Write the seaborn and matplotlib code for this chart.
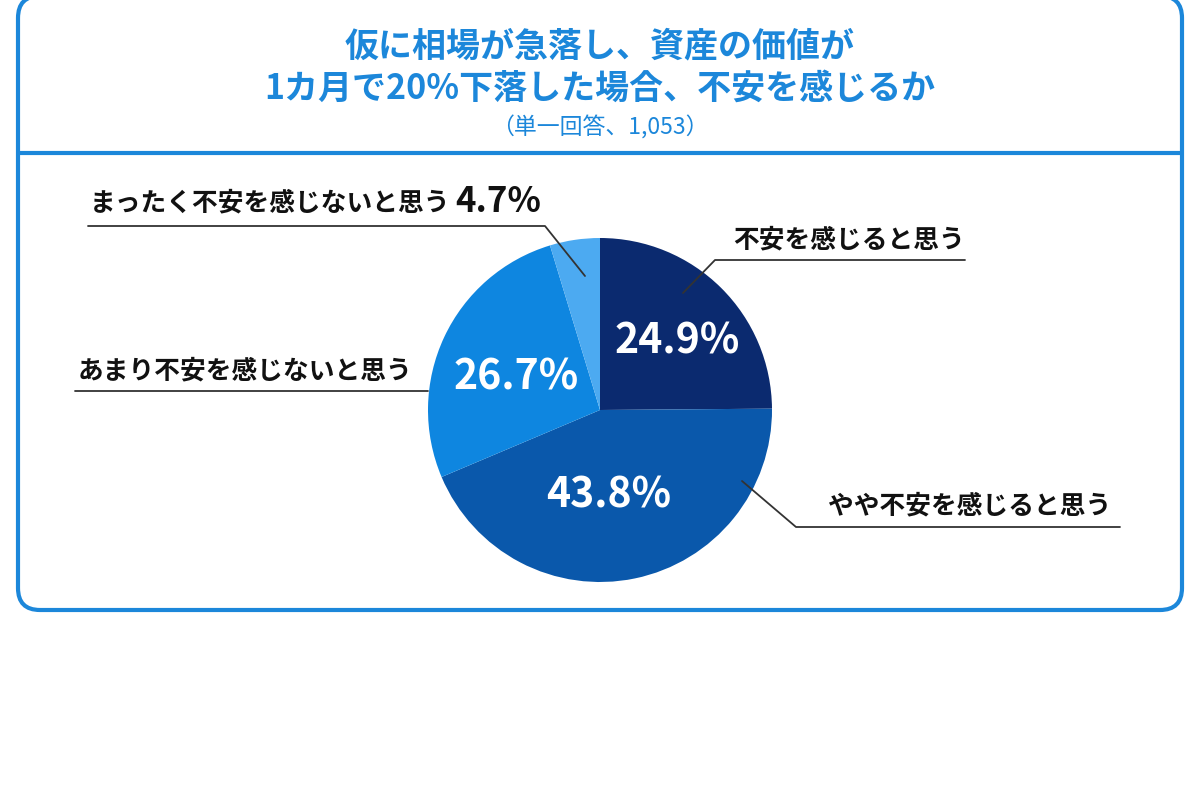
import matplotlib
matplotlib.use("Agg")
import matplotlib.pyplot as plt
from matplotlib.patches import FancyBboxPatch
from matplotlib.lines import Line2D
import seaborn as sns

# Survey data (single answer, n=1,053)
title_lines = ["仮に相場が急落し、資産の価値が", "1カ月で20%下落した場合、不安を感じるか"]
subtitle = "（単一回答、1,053）"
categories = ["不安を感じると思う", "やや不安を感じると思う",
              "あまり不安を感じないと思う", "まったく不安を感じないと思う"]
shares = [24.9, 43.8, 26.7, 4.7]
colors = ["#0b2a6f", "#0a58ab", "#0e86e0", "#4caaf1"]

sns.set_theme(style="white")
plt.rcParams['font.family'] = ['Noto Sans CJK JP', 'DejaVu Sans']

fig = plt.figure(figsize=(12, 8), dpi=100)

# background axes in pixel units for frame and titles
bg = fig.add_axes([0, 0, 1, 1])
bg.set_xlim(0, 1200)
bg.set_ylim(800, 0)
bg.axis("off")

blue = "#1c87da"
box = FancyBboxPatch((18, -4), 1164, 614, boxstyle="round,pad=0,rounding_size=22",
                     linewidth=3, edgecolor=blue, facecolor="white")
bg.add_patch(box)
bg.plot([18, 1182], [153, 153], color=blue, linewidth=3)

bg.text(600, 46, title_lines[0], ha="center", va="center", fontsize=24.5,
        fontweight="bold", color=blue)
bg.text(600, 88, title_lines[1], ha="center", va="center", fontsize=24.5,
        fontweight="bold", color=blue)
bg.text(600, 128, subtitle, ha="center", va="center", fontsize=16.5,
        color=blue)

# pie axes: centre (600, 410), radius 172 px
r = 172
ax = fig.add_axes([(600 - r) / 1200, (800 - 410 - r) / 800, 2 * r / 1200, 2 * r / 800])
wedges, texts, autotexts = ax.pie(
    shares, colors=colors, startangle=90, counterclock=False,
    autopct=lambda p: f"{p:.1f}%" if p > 10 else "",
    pctdistance=0.56, wedgeprops=dict(linewidth=0),
    textprops=dict(color="white", fontsize=29.5, fontweight="bold"))
ax.set_xlim(-1, 1)
ax.set_ylim(-1, 1)
# small nudges of the inside labels
autotexts[0].set_position((0.45, 0.40))
autotexts[1].set_position((0.05, -0.50))
autotexts[2].set_position((-0.49, 0.19))

# overlay axes for callout labels and leader lines (drawn above the pie)
top = fig.add_axes([0, 0, 1, 1], facecolor="none")
top.set_xlim(0, 1200)
top.set_ylim(800, 0)
top.axis("off")

lc = "#333333"
lw = 1.3
label_kw = dict(fontsize=18.5, fontweight="bold", color="#111111", va="center")

top.text(90, 203, categories[3], ha="left", **label_kw)
top.text(455, 201, f"{shares[3]}%", ha="left", fontsize=25, fontweight="bold",
         color="#111111", va="center")
top.add_line(Line2D([88, 545, 585], [226, 226, 276], color=lc, linewidth=lw))

top.text(733, 240, categories[0], ha="left", **label_kw)
top.add_line(Line2D([965, 715, 683], [260, 260, 293], color=lc, linewidth=lw))

top.text(78, 371, categories[2], ha="left", **label_kw)
top.add_line(Line2D([75, 428], [391, 391], color=lc, linewidth=lw))

top.text(828, 506, categories[1], ha="left", **label_kw)
top.add_line(Line2D([1120, 796, 742], [527, 527, 481], color=lc, linewidth=lw))

fig.savefig("out.png", dpi=100, facecolor="white")
